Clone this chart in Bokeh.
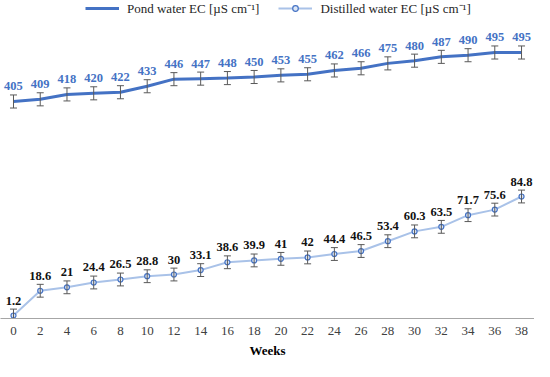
from bokeh.plotting import figure
from bokeh.models import (Range1d, FixedTicker, Whisker, ColumnDataSource, TeeHead,
                          Legend, LegendItem)
from bokeh.core.properties import value
from bokeh.embed import file_html
from bokeh.resources import INLINE

weeks = [0, 2, 4, 6, 8, 10, 12, 14, 16, 18, 20, 22, 24, 26, 28, 30, 32, 34, 36, 38]
pond_ec = [405, 409, 418, 420, 422, 433, 446, 447, 448, 450,
           453, 455, 462, 466, 475, 480, 487, 490, 495, 495]
pond_err = [12, 12, 12, 12, 12, 12, 12, 12, 12, 12,
            12, 12, 12, 12, 12, 12, 12, 12, 12, 12]
distilled_ec = [1.2, 18.6, 21, 24.4, 26.5, 28.8, 30, 33.1, 38.6, 39.9,
                41, 42, 44.4, 46.5, 53.4, 60.3, 63.5, 71.7, 75.6, 84.8]
distilled_err = [4.5, 4.5, 4.5, 4.5, 4.5, 4.5, 4.5, 4.5, 4.5, 4.5,
                 4.5, 4.5, 4.5, 4.5, 4.5, 4.5, 4.5, 4.5, 4.5, 4.5]
series_names = ["Pond water EC [µS cm⁻¹]", "Distilled water EC [µS cm⁻¹]"]
x_title = "Weeks"

FONT = "Liberation Serif"
BLUE = "#4472C4"
LIGHT = "#A9C2E8"
GREY = "#595959"

src = ColumnDataSource(dict(
    weeks=weeks,
    pond=pond_ec,
    pond_lo=[v - e for v, e in zip(pond_ec, pond_err)],
    pond_hi=[v + e for v, e in zip(pond_ec, pond_err)],
    pond_lbl=[str(v) for v in pond_ec],
    dist=distilled_ec,
    dist_lo=[v - e for v, e in zip(distilled_ec, distilled_err)],
    dist_hi=[v + e for v, e in zip(distilled_ec, distilled_err)],
    dist_lbl=[("%g" % v) for v in distilled_ec],
))

FW, FH = 534, 318
p = figure(frame_width=FW, frame_height=FH, output_backend="svg", toolbar_location=None,
           y_axis_location=None, x_range=Range1d(-0.972, 38.97),
           y_range=Range1d(-0.9, 222.5),
           min_border_left=0, min_border_right=0, min_border_top=0, min_border_bottom=0)
p.extra_y_ranges = {"pond": Range1d(6.4, 590.5)}
p.outline_line_color = None
p.grid.visible = False
p.background_fill_color = "white"

ax = p.xaxis[0]
ax.ticker = FixedTicker(ticks=weeks)
ax.axis_line_color = "#A6A6A6"
ax.axis_line_width = 1.2
ax.major_tick_line_color = None
ax.minor_tick_line_color = None
ax.major_tick_out = 0
ax.major_label_standoff = 8
ax.major_label_text_font = FONT
ax.major_label_text_font_size = "13px"
ax.major_label_text_color = "#404040"
ax.axis_label = x_title
ax.axis_label_text_font = FONT
ax.axis_label_text_font_size = "13px"
ax.axis_label_text_font_style = "bold"
ax.axis_label_text_color = "#000000"
ax.axis_label_standoff = 5

pond_line = p.line("weeks", "pond", source=src, y_range_name="pond",
                   line_color=BLUE, line_width=3)
dist_line = p.line("weeks", "dist", source=src, line_color=LIGHT, line_width=2)

w1 = Whisker(base="weeks", upper="pond_hi", lower="pond_lo", source=src,
             y_range_name="pond", line_color=GREY, line_width=1, level="glyph",
             upper_head=TeeHead(size=7, line_color=GREY, line_width=1),
             lower_head=TeeHead(size=7, line_color=GREY, line_width=1))
w2 = Whisker(base="weeks", upper="dist_hi", lower="dist_lo", source=src,
             line_color=GREY, line_width=1, level="glyph",
             upper_head=TeeHead(size=7, line_color=GREY, line_width=1),
             lower_head=TeeHead(size=7, line_color=GREY, line_width=1))
p.add_layout(w1)
p.add_layout(w2)

dist_pts = p.scatter("weeks", "dist", source=src, marker="circle", size=5,
                     line_color=BLUE, line_width=1.2, fill_color="#DCE6F5")

p.text("weeks", "pond", text="pond_lbl", source=src, y_range_name="pond",
       y_offset=-15, text_align="center", text_baseline="middle",
       text_font=value(FONT), text_font_size="12.5px", text_font_style="bold",
       text_color=BLUE)
p.text("weeks", "dist", text="dist_lbl", source=src,
       y_offset=-15, text_align="center", text_baseline="middle",
       text_font=value(FONT), text_font_size="12.5px", text_font_style="bold",
       text_color="#111111")

legend = Legend(items=[LegendItem(label=series_names[0], renderers=[pond_line]),
                       LegendItem(label=series_names[1], renderers=[dist_line, dist_pts])],
                orientation="horizontal", location=(85, FH - 3 - 14),
                margin=0, padding=0, spacing=19, glyph_width=34, glyph_height=14,
                label_height=14, label_standoff=8,
                label_text_font=FONT, label_text_font_size="13px",
                label_text_color="#262626",
                background_fill_alpha=0, border_line_alpha=0)
p.add_layout(legend)

open("out.html", "w").write(file_html(p, INLINE))
